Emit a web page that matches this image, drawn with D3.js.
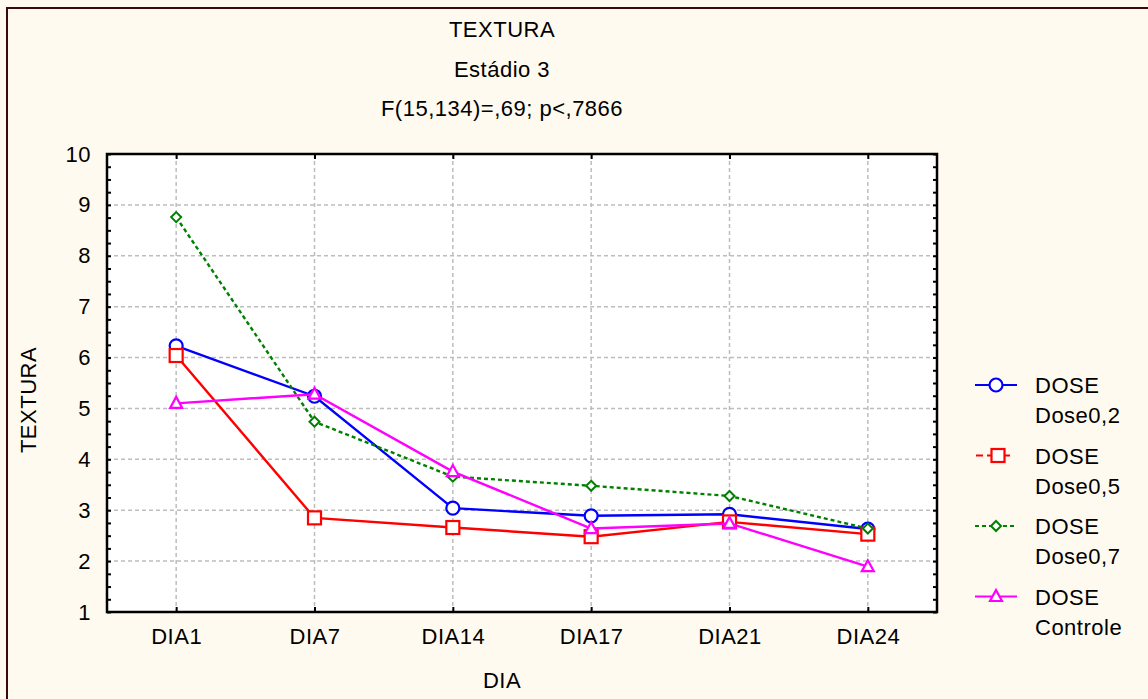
<!DOCTYPE html>
<html>
<head>
<meta charset="utf-8">
<script src="https://cdn.jsdelivr.net/npm/d3@7"></script>
<style>
  body { margin: 0; background: #fffaef; }
  svg { display: block; font-family: "Liberation Sans", Arial, sans-serif; }
  text { letter-spacing: 0.5px; }
</style>
</head>
<body>
<div id="chart"></div>
<script>
// Data
const days = ["DIA1", "DIA7", "DIA14", "DIA17", "DIA21", "DIA24"];
const dose02 = [6.23, 5.24, 3.04, 2.89, 2.92, 2.63];
const dose05 = [6.04, 2.85, 2.66, 2.48, 2.77, 2.53];
const dose07 = [8.76, 4.74, 3.66, 3.48, 3.28, 2.64];
const controle = [5.10, 5.28, 3.76, 2.64, 2.74, 1.89];
const seriesNames = ["Dose0,2", "Dose0,5", "Dose0,7", "Controle"];
const yTicks = [1, 2, 3, 4, 5, 6, 7, 8, 9, 10];

const W = 1148, H = 699;
const FS = 22;
const plot = { left: 107, right: 937, top: 154, bottom: 612 };

const series = [
  { name: seriesNames[0], values: dose02, color: "#0000ff", symbol: "circle", dash: null },
  { name: seriesNames[1], values: dose05, color: "#ff0000", symbol: "square", dash: null },
  { name: seriesNames[2], values: dose07, color: "#008000", symbol: "diamond", dash: "4,3" },
  { name: seriesNames[3], values: controle, color: "#ff00ff", symbol: "triangle", dash: null }
];

const svg = d3.select("#chart")
  .append("svg")
  .attr("width", W)
  .attr("height", H);

// Outer frame
svg.append("rect")
  .attr("x", 7).attr("y", 8)
  .attr("width", W + 10).attr("height", H + 10)
  .attr("fill", "#fffaef")
  .attr("stroke", "#3a0a0a")
  .attr("stroke-width", 2);

// Scales
const x = d3.scalePoint()
  .domain(days)
  .range([plot.left, plot.right])
  .padding(0.5);

const y = d3.scaleLinear()
  .domain([1, 10])
  .range([plot.bottom, plot.top]);

// Plot background
svg.append("rect")
  .attr("x", plot.left).attr("y", plot.top)
  .attr("width", plot.right - plot.left)
  .attr("height", plot.bottom - plot.top)
  .attr("fill", "#ffffff");

// Grid
svg.append("g")
  .selectAll("line")
  .data(yTicks.slice(1, -1))
  .join("line")
  .attr("x1", plot.left).attr("x2", plot.right)
  .attr("y1", d => y(d)).attr("y2", d => y(d))
  .attr("stroke", "#bdbdbd")
  .attr("stroke-width", 1.5)
  .attr("stroke-dasharray", "4,3");

svg.append("g")
  .selectAll("line")
  .data(days)
  .join("line")
  .attr("x1", d => x(d)).attr("x2", d => x(d))
  .attr("y1", plot.top).attr("y2", plot.bottom)
  .attr("stroke", "#bdbdbd")
  .attr("stroke-width", 1.5)
  .attr("stroke-dasharray", "4,3");

// Axes (inward ticks)
const minorTicks = d3.range(1, 10.01, 0.25);

svg.append("g")
  .attr("transform", `translate(${plot.left},0)`)
  .call(d3.axisRight(y).tickValues(minorTicks).tickSize(4).tickFormat(""))
  .call(g => g.select(".domain").remove())
  .selectAll("line").attr("stroke-width", 2);

svg.append("g")
  .attr("transform", `translate(${plot.right},0)`)
  .call(d3.axisLeft(y).tickValues(minorTicks).tickSize(4).tickFormat(""))
  .call(g => g.select(".domain").remove())
  .selectAll("line").attr("stroke-width", 2);

svg.append("g")
  .attr("transform", `translate(0,${plot.bottom})`)
  .call(d3.axisTop(x).tickSize(5).tickFormat(""))
  .call(g => g.select(".domain").remove())
  .selectAll("line").attr("stroke-width", 2);

svg.append("g")
  .attr("transform", `translate(0,${plot.top})`)
  .call(d3.axisBottom(x).tickSize(5).tickFormat(""))
  .call(g => g.select(".domain").remove())
  .selectAll("line").attr("stroke-width", 2);

// Y tick labels
svg.append("g")
  .attr("transform", `translate(${plot.left},0)`)
  .call(d3.axisLeft(y).tickValues(yTicks).tickSize(0).tickPadding(16))
  .call(g => g.select(".domain").remove())
  .selectAll("text")
  .attr("font-size", FS)
  .attr("font-family", "Liberation Sans, Arial, sans-serif")
  .attr("fill", "#000");

// X tick labels
svg.append("g")
  .attr("transform", `translate(0,${plot.bottom})`)
  .call(d3.axisBottom(x).tickSize(0).tickPadding(16))
  .call(g => g.select(".domain").remove())
  .selectAll("text")
  .attr("font-size", FS)
  .attr("font-family", "Liberation Sans, Arial, sans-serif")
  .attr("fill", "#000");

// Plot frame
svg.append("rect")
  .attr("x", plot.left).attr("y", plot.top)
  .attr("width", plot.right - plot.left)
  .attr("height", plot.bottom - plot.top)
  .attr("fill", "none")
  .attr("stroke", "#000")
  .attr("stroke-width", 2.5);

// Symbols
function drawSymbol(g, type, color, cx, cy) {
  if (type === "circle") {
    g.append("circle").attr("cx", cx).attr("cy", cy).attr("r", 6.5)
      .attr("fill", "#fff").attr("stroke", color).attr("stroke-width", 2.2);
  } else if (type === "square") {
    g.append("rect").attr("x", cx - 6.5).attr("y", cy - 6.5).attr("width", 13).attr("height", 13)
      .attr("fill", "#fff").attr("stroke", color).attr("stroke-width", 2.2);
  } else if (type === "diamond") {
    g.append("path").attr("d", `M${cx},${cy - 5}L${cx + 5},${cy}L${cx},${cy + 5}L${cx - 5},${cy}Z`)
      .attr("fill", "#fff").attr("stroke", color).attr("stroke-width", 2);
  } else if (type === "triangle") {
    g.append("path").attr("d", `M${cx},${cy - 6.5}L${cx + 6},${cy + 4.5}L${cx - 6},${cy + 4.5}Z`)
      .attr("fill", "#fff").attr("stroke", color).attr("stroke-width", 2.2);
  }
}

const line = d3.line()
  .x((d, i) => x(days[i]))
  .y(d => y(d));

// Lines and markers
series.forEach(s => {
  const g = svg.append("g");
  g.append("path")
    .datum(s.values)
    .attr("d", line)
    .attr("fill", "none")
    .attr("stroke", s.color)
    .attr("stroke-width", 2.4)
    .attr("stroke-dasharray", s.dash);
  s.values.forEach((v, i) => drawSymbol(g, s.symbol, s.color, x(days[i]), y(v)));
});

// Legend
const legend = svg.append("g");
series.forEach((s, i) => {
  const ly = 385 + i * 70.5;
  const g = legend.append("g");
  if (s.symbol === "square") {
    g.append("line").attr("x1", 976).attr("x2", 983).attr("y1", ly).attr("y2", ly)
      .attr("stroke", s.color).attr("stroke-width", 2);
    g.append("line").attr("x1", 987).attr("x2", 1010).attr("y1", ly).attr("y2", ly)
      .attr("stroke", s.color).attr("stroke-width", 2);
  } else {
    g.append("line").attr("x1", 975).attr("x2", 1017).attr("y1", ly).attr("y2", ly)
      .attr("stroke", s.color).attr("stroke-width", 2)
      .attr("stroke-dasharray", s.dash);
  }
  drawSymbol(g, s.symbol, s.color, s.symbol === "square" ? 998 : 996, ly);
  g.append("text").attr("x", 1035).attr("y", ly + 8)
    .attr("font-size", FS).text("DOSE");
  g.append("text").attr("x", 1035).attr("y", ly + 38)
    .attr("font-size", FS).text(s.name);
});

// Titles
const titles = ["TEXTURA", "Estádio 3", "F(15,134)=,69; p<,7866"];
svg.append("g")
  .selectAll("text")
  .data(titles)
  .join("text")
  .attr("x", 502)
  .attr("y", (d, i) => 37 + i * 39.5)
  .attr("text-anchor", "middle")
  .attr("font-size", FS)
  .text(d => d);

svg.append("text")
  .attr("x", 502).attr("y", 688)
  .attr("text-anchor", "middle")
  .attr("font-size", FS)
  .text("DIA");

svg.append("text")
  .attr("transform", "translate(36,400) rotate(-90)")
  .attr("text-anchor", "middle")
  .attr("font-size", FS)
  .text("TEXTURA");
</script>
</body>
</html>
